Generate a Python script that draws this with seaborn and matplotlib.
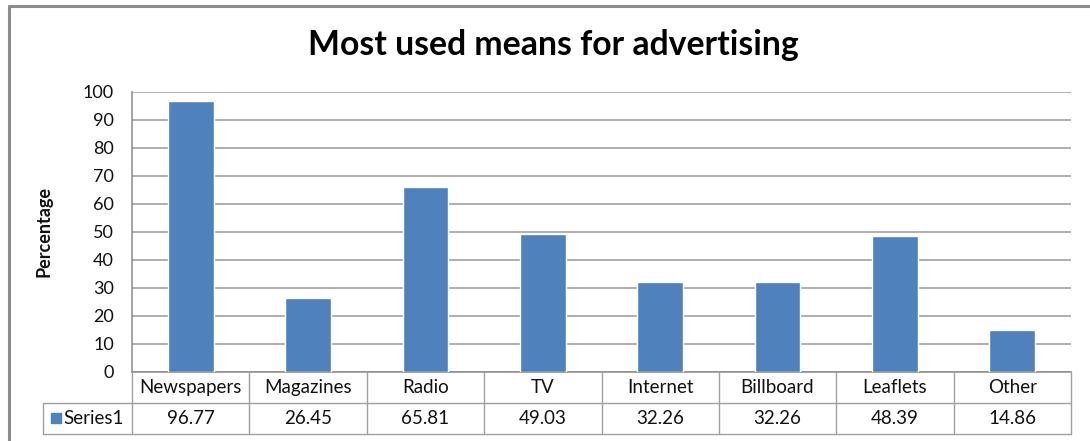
import matplotlib
matplotlib.use("Agg")
import matplotlib.pyplot as plt
from matplotlib.lines import Line2D
from matplotlib.patches import Rectangle
import seaborn as sns
import pandas as pd

categories = ["Newspapers", "Magazines", "Radio", "TV", "Internet", "Billboard", "Leaflets", "Other"]
values = [96.77, 26.45, 65.81, 49.03, 32.26, 32.26, 48.39, 14.86]
value_labels = ["96.77", "26.45", "65.81", "49.03", "32.26", "32.26", "48.39", "14.86"]
series_name = "Series1"
y_ticks = [0, 10, 20, 30, 40, 50, 60, 70, 80, 90, 100]

sns.set_theme(style="white")
plt.rcParams["font.family"] = ["Lato", "DejaVu Sans"]

W, H = 1090, 441
fig = plt.figure(figsize=(W / 100, H / 100), dpi=100)

def fx(px):
    return px / W

def fy(py):
    return 1 - py / H

left_px, right_px, top_px, bottom_px = 132, 1071, 91.5, 372
ax = fig.add_axes([fx(left_px), fy(bottom_px), fx(right_px - left_px), fy(top_px) - fy(bottom_px)])

df = pd.DataFrame({"Category": categories, "Value": values})
bar_color = "#4F81BD"
sns.barplot(data=df, x="Category", y="Value", color=bar_color, width=0.39,
            saturation=1, ax=ax, zorder=3)

ax.set_xlim(-0.5, len(categories) - 0.5)
ax.set_ylim(0, 100)
ax.set_yticks(y_ticks)
ax.set_yticklabels([str(t) for t in y_ticks], fontsize=13, color="#111111")
ax.tick_params(axis="y", length=0, pad=13)
ax.set_xticks([])
ax.set_xlabel("")
ax.set_ylabel("Percentage", fontsize=13, fontweight="bold", color="#111111")
ax.yaxis.set_label_coords((53 - left_px) / (right_px - left_px), 0.5)
ax.yaxis.grid(True, color="#9A9A9A", linewidth=1.1)
ax.set_axisbelow(True)
for side in ["top", "right"]:
    ax.spines[side].set_visible(False)
ax.spines["left"].set_color("#8C8C8C")
ax.spines["bottom"].set_color("#8C8C8C")
ax.spines["left"].set_linewidth(1.1)
ax.spines["bottom"].set_linewidth(1.1)

# Outer chart frame
frame_c = "#8C8C8C"
fig.add_artist(Line2D([fx(9), fx(W + 5)], [fy(6), fy(6)], color=frame_c, linewidth=2.2))
fig.add_artist(Line2D([fx(9), fx(9)], [fy(6), fy(H + 5)], color=frame_c, linewidth=2.2))

fig.suptitle("Most used means for advertising", x=fx(553), y=fy(45), va="center",
             fontsize=24.3, fontweight="bold", color="#000000")

# Data table below the plot
tab_c = "#A0A0A0"
row1_bot, row2_bot = 402.7, 434
cell_w = (right_px - left_px) / len(categories)
lw = 1.0
fig.add_artist(Line2D([fx(43), fx(right_px)], [fy(row1_bot), fy(row1_bot)], color=tab_c, linewidth=lw))
fig.add_artist(Line2D([fx(43), fx(right_px)], [fy(row2_bot), fy(row2_bot)], color=tab_c, linewidth=lw))
fig.add_artist(Line2D([fx(43), fx(43)], [fy(row1_bot), fy(row2_bot)], color=tab_c, linewidth=lw))
for i in range(len(categories) + 1):
    xp = left_px + i * cell_w
    fig.add_artist(Line2D([fx(xp), fx(xp)], [fy(bottom_px), fy(row2_bot)], color=tab_c, linewidth=lw))
for i, (cat, lab) in enumerate(zip(categories, value_labels)):
    xc = left_px + (i + 0.5) * cell_w
    fig.text(fx(xc), fy((bottom_px + row1_bot) / 2), cat, ha="center", va="center",
             fontsize=13.5, color="#111111")
    fig.text(fx(xc), fy((row1_bot + row2_bot) / 2), lab, ha="center", va="center",
             fontsize=13.5, color="#111111")
fig.add_artist(Rectangle((fx(51), fy(423)), fx(10), fy(413) - fy(423), color=bar_color))
fig.text(fx(63), fy((row1_bot + row2_bot) / 2), series_name, ha="left", va="center",
         fontsize=13.5, color="#111111")

fig.savefig("out.png", dpi=100)
